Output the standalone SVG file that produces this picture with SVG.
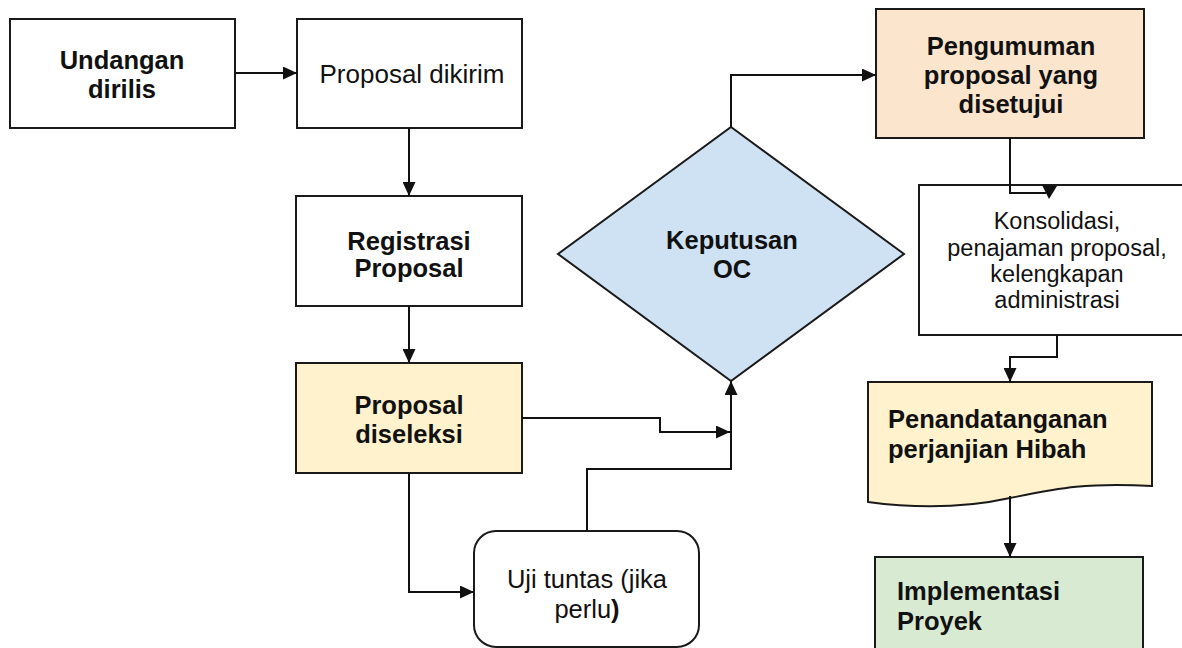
<svg xmlns="http://www.w3.org/2000/svg" width="1182" height="648" viewBox="0 0 1182 648">
<defs>
<style>
.box{stroke:#1a1a1a;stroke-width:2;}
.w{fill:#ffffff;}
.y{fill:#fff2cc;}
.o{fill:#fce5cd;}
.b{fill:#cfe2f3;}
.g{fill:#d9ead3;}
.tb{font-family:"Liberation Sans",Arial,sans-serif;font-weight:bold;font-size:25.5px;fill:#111;}
.tr{font-family:"Liberation Sans",Arial,sans-serif;font-size:23.5px;fill:#111;}
.c{text-anchor:middle;}
.ln{fill:none;stroke:#111;stroke-width:2;}
</style>
<marker id="ah" markerUnits="userSpaceOnUse" markerWidth="14" markerHeight="13" viewBox="0 0 14 13" refX="14" refY="6.5" orient="auto">
<path d="M0,0 L14,6.5 L0,13 Z" fill="#111"/>
</marker>
</defs>
<rect width="1182" height="648" fill="#ffffff"/>

<g id="undangan">
<rect class="box w" x="10" y="19" width="225" height="109"/>
<text class="tb c" x="122" y="69">Undangan</text>
<text class="tb c" x="122" y="98">dirilis</text>
</g>

<g id="dikirim">
<rect class="box w" x="297" y="19" width="225" height="109"/>
<text class="tr c" x="412" y="83" style="font-size:26px">Proposal dikirim</text>
</g>

<g id="registrasi">
<rect class="box w" x="296" y="196" width="226" height="110"/>
<text class="tb c" x="409" y="250">Registrasi</text>
<text class="tb c" x="409" y="277">Proposal</text>
</g>

<g id="diseleksi">
<rect class="box y" x="296" y="363" width="226" height="110"/>
<text class="tb c" x="409" y="414">Proposal</text>
<text class="tb c" x="409" y="443">diseleksi</text>
</g>

<g id="uji">
<rect class="box w" x="474" y="531" width="225" height="116" rx="22" ry="22"/>
<text class="tr c" x="587" y="588" style="font-size:25.5px">Uji tuntas (jika</text>
<text class="tr c" x="587" y="618" style="font-size:25.5px">perlu<tspan font-weight="bold">)</tspan></text>
</g>

<g id="keputusan">
<polygon class="box b" points="731,127 904,254 731,381 558,254"/>
<text class="tb c" x="732" y="249">Keputusan</text>
<text class="tb c" x="732" y="278">OC</text>
</g>

<g id="pengumuman">
<rect class="box o" x="876" y="9" width="268" height="129"/>
<text class="tb c" x="1011" y="55">Pengumuman</text>
<text class="tb c" x="1011" y="84">proposal yang</text>
<text class="tb c" x="1011" y="113">disetujui</text>
</g>

<g id="konsolidasi">
<rect class="box w" x="919" y="185" width="270" height="150"/>
<text class="tr c" x="1057" y="229">Konsolidasi,</text>
<text class="tr c" x="1057" y="256">penajaman proposal,</text>
<text class="tr c" x="1057" y="282">kelengkapan</text>
<text class="tr c" x="1057" y="308">administrasi</text>
</g>

<g id="penandatanganan">
<path class="box y" d="M868,382 H1152 V486 C1085,482 1055,489 1010,498 C960,509 912,508 868,502 Z"/>
<text class="tb" x="888" y="428">Penandatanganan</text>
<text class="tb" x="888" y="458">perjanjian Hibah</text>
</g>

<g id="implementasi">
<rect class="box g" x="875" y="557" width="268" height="100"/>
<text class="tb" x="897" y="600">Implementasi</text>
<text class="tb" x="897" y="630">Proyek</text>
</g>

<g id="connectors">
<path class="ln" d="M235,73 H297" marker-end="url(#ah)"/>
<path class="ln" d="M409,128 V196" marker-end="url(#ah)"/>
<path class="ln" d="M409,306 V363" marker-end="url(#ah)"/>
<path class="ln" d="M522,418 H660 V432 H730" marker-end="url(#ah)"/>
<path class="ln" d="M409,473 V592 H474" marker-end="url(#ah)"/>
<path class="ln" d="M587,531 V469 H731 V381" marker-end="url(#ah)"/>
<path class="ln" d="M731,127 V75 H876" marker-end="url(#ah)"/>
<path class="ln" d="M1010,138 V193 H1046"/>
<polygon points="1042,185 1057,186 1049,199" fill="#111"/>
<path class="ln" d="M1057,335 V357 H1010 V382" marker-end="url(#ah)"/>
<path class="ln" d="M1010,496 V557" marker-end="url(#ah)"/>
</g>
</svg>
